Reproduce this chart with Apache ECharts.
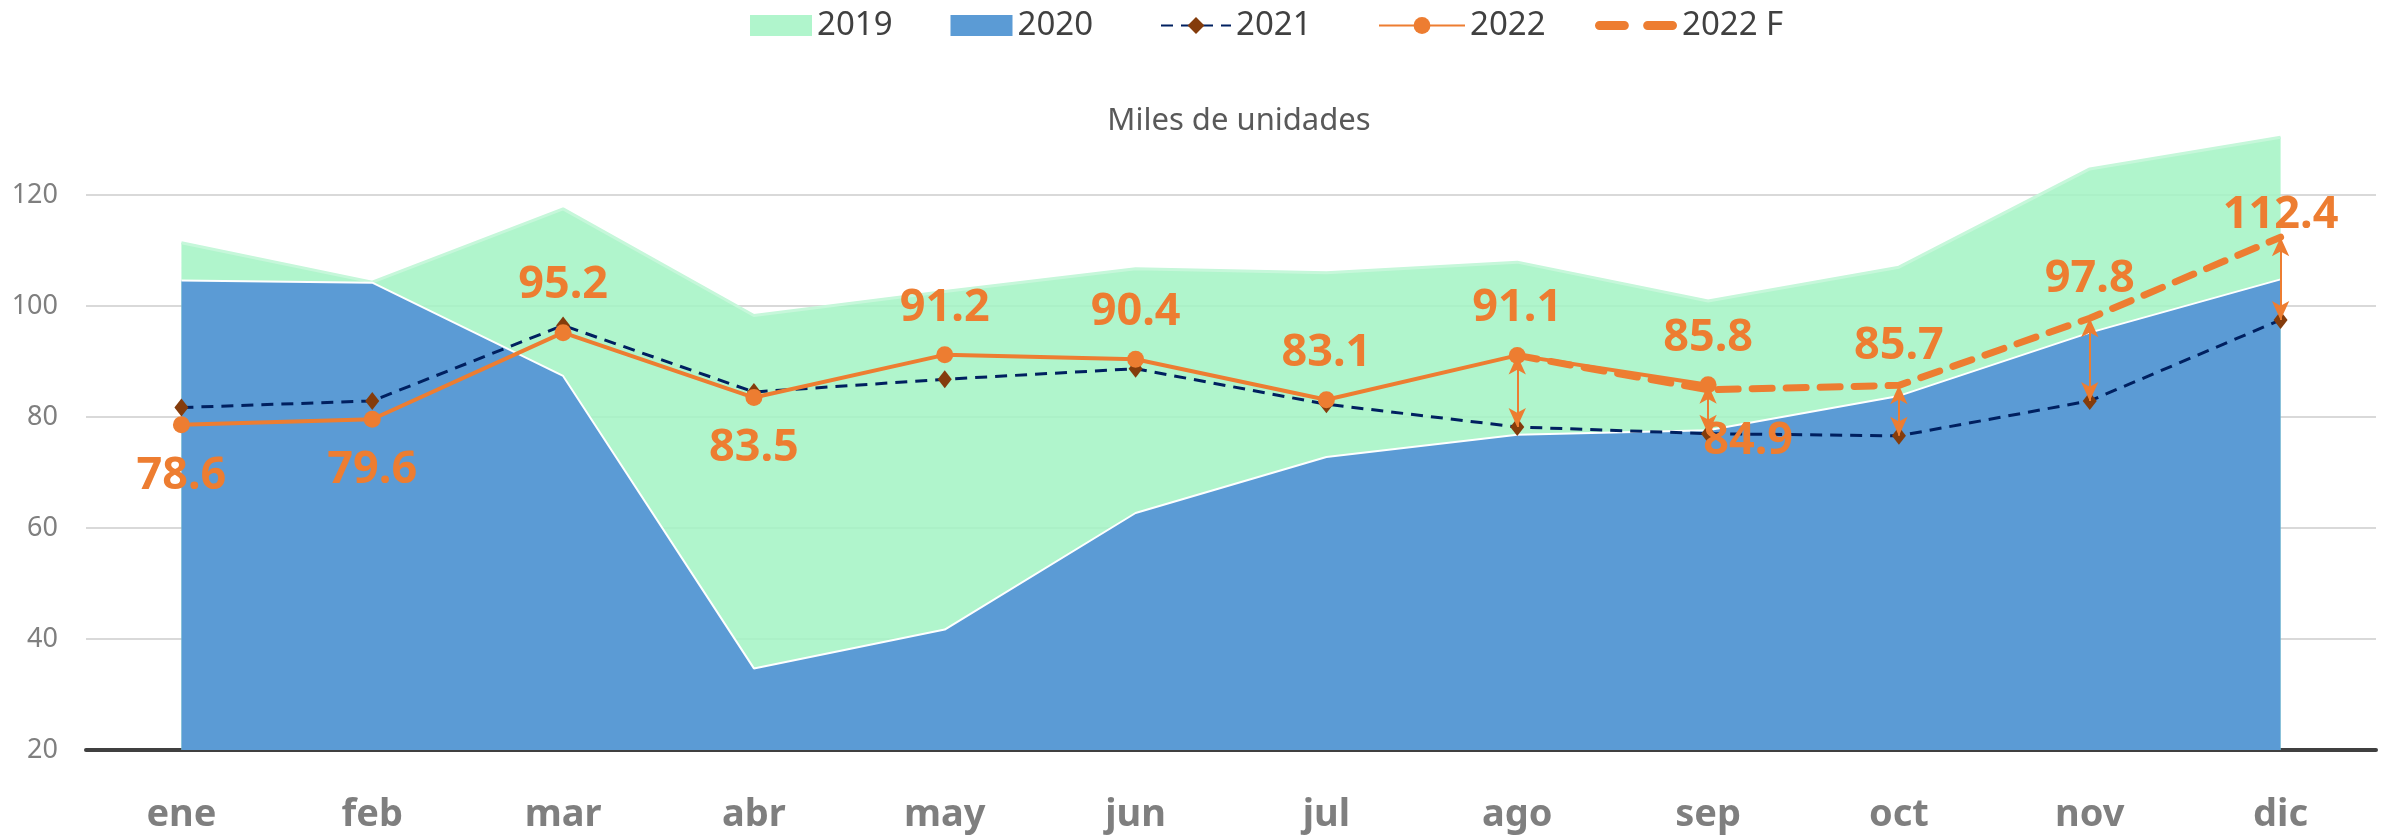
<!DOCTYPE html>
<html>
<head>
<meta charset="utf-8">
<script src="https://cdn.jsdelivr.net/npm/echarts@6/dist/echarts.min.js"></script>
<style>html,body{margin:0;padding:0;background:#fff}#c{width:2384px;height:838px}</style>
</head>
<body>
<div id="c"></div>
<script>
const months = ['ene','feb','mar','abr','may','jun','jul','ago','sep','oct','nov','dic'];
const yTicks = [20, 40, 60, 80, 100, 120];
const s2019 = [111.4, 104.3, 117.5, 98.3, 102.6, 106.7, 106.0, 107.9, 100.9, 107.0, 124.7, 130.4];
const s2020 = [104.6, 104.2, 87.4, 34.7, 41.7, 62.7, 72.8, 76.8, 77.6, 83.8, 95.2, 104.8];
const s2021 = [81.7, 82.9, 96.5, 84.5, 86.8, 88.7, 82.3, 78.2, 77.0, 76.6, 82.9, 97.5];
const s2022 = [78.6, 79.6, 95.2, 83.5, 91.2, 90.4, 83.1, 91.1, 85.8, null, null, null];
const s2022F = [null, null, null, null, null, null, null, 91.1, 84.9, 85.7, 97.8, 112.4];
const arrowMonths = ['ago', 'sep', 'oct', 'nov', 'dic'];

// label placement (style only)
const pos2022 = ['bottom','bottom','top','bottom','top','top','top','top','top'];
const posF = {
  8: {position: 'bottom', offset: [40, 12]},
  9: {position: 'top'},
  10: {position: 'top'},
  11: {position: 'top', offset: [0, 18]}
};

const orange = '#ed7d31';
const labelStyle = {show: true, color: orange, fontFamily: 'Noto Sans', fontWeight: 'bold', fontSize: 45, distance: 16};

const data2022 = s2022.map((v, i) => v == null ? null : ({
  value: v,
  label: Object.assign({}, labelStyle, {position: pos2022[i]}, pos2022[i] === 'bottom' ? {distance: 20} : {})
}));
const dataF = s2022F.map((v, i) => {
  if (v == null) return null;
  if (posF[i]) return {value: v, label: Object.assign({}, labelStyle, posF[i])};
  return {value: v, label: {show: false}};
});

const arrowData = arrowMonths.map(m => {
  const i = months.indexOf(m);
  const top = s2022[i] != null ? s2022[i] : s2022F[i];
  return [{coord: [m, s2021[i]]}, {coord: [m, top]}];
});

const legendText = {fontFamily: 'Noto Sans', fontSize: 33, color: '#404040'};
const legendBase = {top: 4, itemHeight: 21, itemGap: 58, textStyle: legendText};

const chart = echarts.init(document.getElementById('c'), null, {renderer: 'canvas'});
chart.setOption({
  animation: false,
  backgroundColor: '#fff',
  title: {
    text: 'Miles de unidades',
    left: 1234, top: 101, textAlign: 'center',
    textStyle: {fontFamily: 'Noto Sans', fontWeight: 'normal', fontSize: 31, color: '#595959'}
  },
  legend: [
    Object.assign({}, legendBase, {left: 745, itemWidth: 62, data: [
      {name: '2019', icon: 'rect', itemStyle: {color: '#b0f5cc'}},
      {name: '2020', icon: 'rect', itemStyle: {color: '#5b9bd5'}}
    ]}),
    Object.assign({}, legendBase, {left: 1155, itemWidth: 70, data: ['2021']}),
    Object.assign({}, legendBase, {left: 1373, itemWidth: 86, data: ['2022']}),
    Object.assign({}, legendBase, {left: 1590, itemWidth: 82, data: [
      {name: '2022 F', icon: 'path://M3,0h19a3.5,3.5 0 0 1 0,7h-19a3.5,3.5 0 0 1 0,-7z M40,0h19a3.5,3.5 0 0 1 0,7h-19a3.5,3.5 0 0 1 0,-7z', itemStyle: {color: orange}}
    ]})
  ],
  grid: {left: 86, right: 8, top: 195, bottom: 88},
  xAxis: {
    type: 'category', data: months, boundaryGap: true,
    axisLine: {show: true, lineStyle: {color: '#404040', width: 4}},
    axisTick: {show: false},
    axisLabel: {fontFamily: 'Noto Sans', fontWeight: 'bold', fontSize: 38, color: '#7f7f7f', margin: 46}
  },
  yAxis: {
    type: 'value', min: yTicks[0], max: yTicks[yTicks.length - 1], interval: yTicks[1] - yTicks[0],
    axisLine: {show: false}, axisTick: {show: false},
    splitLine: {lineStyle: {color: '#d9d9d9', width: 2}},
    axisLabel: {fontFamily: 'Noto Sans', fontSize: 27, color: '#7f7f7f', margin: 28}
  },
  series: [
    {
      name: '2019', type: 'line', data: s2019, clip: false, z: 1,
      symbol: 'none', showSymbol: false,
      itemStyle: {color: '#b0f5cc'},
      lineStyle: {color: '#c6f7da', width: 3},
      areaStyle: {color: 'rgb(162,243,195)', opacity: 0.85, origin: 'start'}
    },
    {
      name: '2020', type: 'line', data: s2020, clip: false, z: 2,
      symbol: 'none', showSymbol: false,
      itemStyle: {color: '#5b9bd5'},
      lineStyle: {color: '#ffffff', width: 2},
      areaStyle: {color: '#5b9bd5', opacity: 1, origin: 'start'}
    },
    {
      name: '2021', type: 'line', data: s2021, clip: false, z: 3,
      symbol: 'diamond', symbolSize: [14, 18],
      itemStyle: {color: '#843c0c'},
      lineStyle: {color: '#002060', width: 3, type: [12, 8]},
      markLine: {
        silent: true, symbol: ['arrow', 'arrow'], symbolSize: [13, 19],
        label: {show: false},
        lineStyle: {color: orange, width: 2, type: 'solid'},
        data: arrowData
      }
    },
    {
      name: '2022 F', type: 'line', data: dataF, clip: false, z: 4,
      symbol: 'circle', symbolSize: 2, showSymbol: true,
      itemStyle: {color: orange},
      lineStyle: {color: orange, width: 7, type: [20, 14], cap: 'round'}
    },
    {
      name: '2022', type: 'line', data: data2022, clip: false, z: 5,
      symbol: 'circle', symbolSize: 17,
      itemStyle: {color: orange},
      lineStyle: {color: orange, width: 4}
    }
  ]
});
</script>
</body>
</html>
